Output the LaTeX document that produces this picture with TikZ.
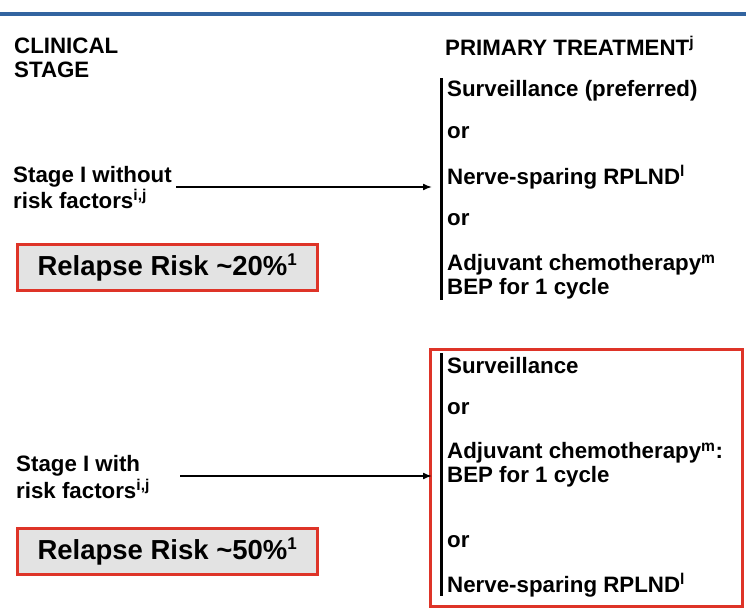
\documentclass[tikz,border=0pt]{standalone}
\usepackage{fontspec}
\usetikzlibrary{arrows.meta}
\setmainfont{Liberation Sans}
\definecolor{rb}{RGB}{222,52,40}
\definecolor{topblue}{RGB}{50,100,160}
\begin{document}
\begin{tikzpicture}[x=1pt,y=-1pt,
  txt/.style={anchor=west,inner sep=0pt,font=\fontsize{22.3}{25}\bfseries\selectfont},
  risk/.style={draw=rb,fill=gray!22,line width=3pt,minimum width=300pt,minimum height=46pt,inner sep=0pt,font=\fontsize{27.5}{30}\bfseries\selectfont},
  bar/.style={line width=3pt},
  arr/.style={line width=1.6pt,-{Latex[length=9pt,width=7pt]}}]
\useasboundingbox (0,0) rectangle (746,610);
\fill[topblue] (0,12) rectangle (746,16);
\node[txt] (cs1) at (14,46) {CLINICAL};
\node[txt] (cs2) at (14,70) {STAGE};
\node[txt] (pt) at (445,46) {PRIMARY TREATMENT\textsuperscript{j}};
\draw[bar] (441,78) -- (441,300);
\node[txt] (a1) at (447,91) {Surveillance (preferred)};
\node[txt] (a2) at (447,133) {or};
\node[txt] (a3) at (447,177) {Nerve-sparing RPLND\textsuperscript{l}};
\node[txt] (a4) at (447,220) {or};
\node[txt] (a5) at (447,265) {Adjuvant chemotherapy\textsuperscript{m}};
\node[txt] (a6) at (447,289) {BEP for 1 cycle};
\node[txt] (s1) at (13,177) {Stage I without};
\node[txt] (s1b) at (13,199) {risk factors\textsuperscript{i,j}};
\coordinate (e1) at (432,187);
\draw[arr] (176,187) -- (e1);
\node[risk] (r1) at (167.5,267.5) {Relapse Risk \textasciitilde20\%\textsuperscript{\fontsize{17}{17}\selectfont 1}};
\draw[draw=rb,line width=3pt] (430,349) rectangle (742,606);
\draw[bar] (441,353) -- (441,596);
\node[txt] (b1) at (447,366) {Surveillance};
\node[txt] (b2) at (447,409) {or};
\node[txt] (b3) at (447,453) {Adjuvant chemotherapy\textsuperscript{m}:};
\node[txt] (b4) at (447,477) {BEP for 1 cycle};
\node[txt] (b5) at (447,542) {or};
\node[txt] (b6) at (447,585) {Nerve-sparing RPLND\textsuperscript{l}};
\node[txt] (s2) at (16,466) {Stage I with};
\node[txt] (s2b) at (16,489) {risk factors\textsuperscript{i,j}};
\coordinate (e2) at (432,476);
\draw[arr] (180,476) -- (e2);
\node[risk] (r2) at (167.5,551.5) {Relapse Risk \textasciitilde50\%\textsuperscript{\fontsize{17}{17}\selectfont 1}};
\end{tikzpicture}
\end{document}
